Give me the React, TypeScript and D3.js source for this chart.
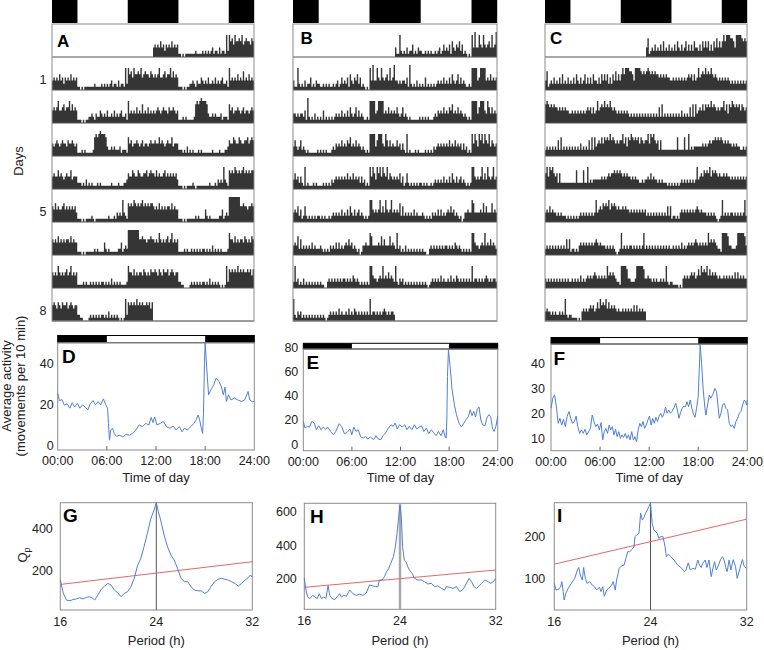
import React from "react";
import * as d3 from "d3";

const FONT = "'Liberation Sans', Arial, Helvetica, sans-serif";
const INK = "#222";
const BLUE = "#4f7fd6";
const RED = "#e06a6a";
const FRAME = "#8c8c8c";

// Actogram activity: one entry per day, four 6-h blocks (00-06, 06-12, 12-18, 18-24),
// each digit is the activity level (0-9) of a 20-min bin
const actogramA: string[][] = [
  ["343435342434353434", "110101111111211112", "121212312213122172", "756475565745655465"],
  ["454574456455746454", "111010112232132243", "232422324232342231", "734343534363435343"],
  ["434543454435445434", "111212111112676787", "776322323222312221", "645344543453443454"],
  ["454464543454463444", "222121312121112121", "111111211112111223", "544654465445564565"],
  ["546454456454545453", "111010111121011111", "111121112132327321", "656576565675656566"],
  ["545464545455464544", "111010111111212111", "142121111112241232", "888888885565545565"],
  ["545475454564574545", "111121211212121212", "212121312121211112", "755464545546545465"],
  ["565465465564565455", "221100001212121212", "212131212121010172", "656565756565565646"],
];

const actogramB: string[][] = [
  ["311721213122412132", "211212121121231242", "324153243524121010", "738337437434537348"],
  ["332323324182121312", "121412121212323242", "324253235242321121", "777734777734353434"],
  ["353235232121111112", "121212111232434353", "435463435343232121", "777735777437535343"],
  ["353424217121112121", "111212121323434343", "435343534342423121", "747537574754735434"],
  ["343524125212121212", "212121121232323242", "324253242342321212", "774343473537434734"],
  ["343625232323242322", "232121213232424232", "343534232120133433", "763333436353336343"],
  ["272312131212121212", "121100232323232323", "323232432321212121", "774332343734353432"],
  ["721323121212121212", "121210123232324232", "232423243232323232", "723323232343232332"],
];

const actogramC: string[][] = [
  ["361232423242523242", "324253242352424253", "324253535242536353", "575777665377776565"],
  ["676565655454545443", "343434343434545353", "474565756575454343", "434343232323232323"],
  ["232323232526232323", "232323242323252626", "345464656575654545", "574636576565646545"],
  ["574767545252222222", "222262222622723233", "333343434545565656", "545454434343322323"],
  ["343534332323222121", "212121232323232323", "734546565746565454", "454544343434343434"],
  ["232323232323232525", "122121343434343434", "543433323232321012", "723232332323232372"],
  ["323232323232323232", "232323242323434345", "434343437454543221", "777763322237777763"],
  ["343323232232327212", "211110103434345453", "464756574645454343", "343434343535343433"],
];

// lights-off phases (hours)
const darkPhases: [number, number][] = [[0, 6], [18, 24]];
const dayLabels = [1, 5, 8];

// Mean daily activity profiles [hour, movements per 10 min]
const profileD: [number, number][] = [
  [0, 25.7], [0.21, 22], [0.51, 22.6], [0.8, 19.9], [1.14, 20.5], [1.48, 18.4], [1.77, 21.1], [2.07, 19],
  [2.41, 20.8], [2.7, 18.4], [3.04, 20], [3.34, 19], [3.68, 17.6], [3.97, 20.5], [4.31, 22.1], [4.61, 20],
  [4.94, 21.6], [5.24, 20], [5.58, 22.9], [5.87, 20], [6.08, 18.4], [6.2, 11], [6.32, 2.8], [6.47, 7.8],
  [6.71, 8.6], [6.91, 6], [7.18, 4.7], [7.58, 5.2], [7.97, 4.4], [8.37, 5.7], [8.76, 5.2], [9.16, 6.3],
  [9.55, 7.8], [9.95, 10.2], [10.34, 9.4], [10.74, 11], [11.13, 10.2], [11.41, 13.9], [11.64, 11.4],
  [11.84, 14.1], [12.12, 10.2], [12.51, 11], [12.9, 11.9], [13.29, 9.4], [13.69, 8.6], [14.08, 9.7],
  [14.47, 7.8], [14.86, 9.4], [15.18, 6.9], [15.45, 8.6], [15.84, 7.8], [16.24, 9.4], [16.63, 11],
  [16.9, 12.7], [17.14, 15.1], [17.33, 12.7], [17.53, 8.6], [17.69, 6.1], [17.8, 15.9], [17.92, 40.3],
  [18.0, 50], [18.21, 37], [18.42, 24.9], [18.71, 27.3], [19.05, 29.8], [19.34, 33], [19.68, 31.4],
  [19.97, 28.9], [20.22, 24.9], [20.43, 28.6], [20.6, 21.6], [20.85, 24.9], [21.15, 22.4], [21.57, 23.3],
  [21.99, 22.4], [22.41, 21.6], [22.83, 22.4], [23.24, 26.5], [23.45, 22.4], [23.75, 21.6], [24, 21.6],
];

const profileE: [number, number][] = [
  [0, 18.7], [0.21, 13.2], [0.51, 14.6], [0.76, 14], [1.06, 18.7], [1.35, 17.3], [1.61, 11.8], [1.9, 15.1],
  [2.2, 11.8], [2.45, 14], [2.75, 12.4], [3.04, 13.7], [3.38, 10.4], [3.72, 7.7], [4.01, 10.4], [4.44, 16.8],
  [4.73, 14.6], [5.07, 8.5], [5.41, 9.6], [5.75, 12.4], [6.0, 7.7], [6.24, 14], [6.51, 10.4], [6.78, 11.8],
  [7.1, 5.8], [7.41, 4.9], [7.69, 6.3], [7.96, 4.1], [8.27, 5.8], [8.67, 3.6], [8.98, 6.9], [9.25, 4.1],
  [9.57, 3.6], [9.84, 6.9], [10.16, 9.1], [10.43, 12.4], [10.82, 15.9], [11.1, 14.6], [11.33, 17.3],
  [11.61, 12.4], [11.88, 15.9], [12.2, 14], [12.52, 15.9], [12.8, 11.8], [13.08, 14.6], [13.4, 11.8],
  [13.72, 15.9], [14.0, 12.4], [14.28, 14], [14.6, 15.1], [14.88, 10.4], [15.2, 13.2], [15.48, 8.5],
  [15.8, 11.8], [16.12, 9.1], [16.4, 6.9], [16.68, 10.4], [17.0, 6.9], [17.28, 11.8], [17.52, 5.8],
  [17.64, 4.9], [17.72, 20], [17.8, 55.8], [17.92, 77.7], [18.13, 64], [18.35, 46], [18.65, 32.4],
  [18.91, 24.2], [19.22, 17.3], [19.52, 14], [19.83, 17.3], [20.09, 20], [20.39, 22.8], [20.61, 28.3],
  [20.83, 23.4], [21.04, 26.9], [21.26, 22.3], [21.48, 28.8], [21.7, 30.5], [21.91, 20], [22.13, 15.9],
  [22.43, 15.1], [22.65, 21.4], [22.91, 24.2], [23.13, 22.8], [23.35, 13.2], [23.56, 10.4], [23.78, 14.6],
  [24, 22.8],
];

const profileF: [number, number][] = [
  [0, 22.1], [0.22, 26.1], [0.44, 27.4], [0.66, 22.7], [0.88, 16.1], [1.09, 18.1], [1.31, 15.4], [1.53, 17.7],
  [1.75, 14.8], [1.97, 18.8], [2.19, 20.8], [2.41, 18.1], [2.63, 16.1], [2.85, 16.8], [3.07, 19], [3.28, 14.8],
  [3.5, 12.1], [3.72, 13.5], [3.94, 12.1], [4.16, 13.7], [4.38, 11.5], [4.6, 12.8], [4.82, 14.1], [5.04, 19.4],
  [5.26, 16.8], [5.47, 14.8], [5.69, 15.8], [5.91, 13.5], [6.12, 16.4], [6.32, 9.5], [6.51, 12.8], [6.71, 14.1],
  [6.91, 12.1], [7.11, 15.4], [7.3, 13.5], [7.5, 14.8], [7.7, 11.5], [7.89, 13.7], [8.09, 10.8], [8.29, 12.8],
  [8.49, 10.1], [8.68, 11.5], [8.88, 10.5], [9.08, 12.1], [9.28, 10.1], [9.47, 11.5], [9.67, 9.5], [9.87, 12.8],
  [10.07, 9.5], [10.26, 10.8], [10.46, 8.8], [10.66, 13.5], [10.86, 16.1], [11.05, 14.8], [11.25, 16.8],
  [11.45, 14.1], [11.64, 15.4], [11.84, 17.4], [12.04, 19], [12.24, 15.4], [12.43, 18.1], [12.63, 16.1],
  [12.82, 18.5], [13.02, 16.8], [13.22, 19], [13.41, 20.1], [13.61, 18.5], [13.8, 19.8], [14.0, 22.5],
  [14.2, 20.1], [14.39, 21.4], [14.59, 20.1], [14.78, 20.8], [15.06, 22.5], [15.25, 24.1], [15.45, 21.4],
  [15.65, 18.1], [15.84, 20.4], [16.04, 22.1], [16.24, 23], [16.43, 22.7], [16.63, 24.7], [16.82, 22.7],
  [17.02, 25.4], [17.22, 22.1], [17.41, 19.8], [17.61, 18.5], [17.8, 22.1], [18.0, 26.7], [18.12, 37.3],
  [18.24, 47.3], [18.41, 40], [18.61, 29.4], [18.82, 22.1], [18.94, 19.4], [19.14, 23.4], [19.35, 27.4],
  [19.55, 26.1], [19.84, 28.1], [20.04, 30], [20.24, 28.7], [20.45, 22.1], [20.57, 18.1], [20.78, 20.1],
  [20.98, 23.4], [21.18, 24.1], [21.39, 22.1], [21.59, 21.4], [21.8, 16.1], [22.0, 14.8], [22.2, 15.4],
  [22.41, 14.1], [22.61, 16.8], [22.82, 18.1], [23.02, 20.1], [23.22, 20.8], [23.43, 23.4], [23.63, 25.4],
  [23.8, 24.7], [23.92, 23.4], [24, 25.4],
];

// Chi-square periodograms [period h, Qp] and significance line end points
const periodogramG: [number, number][] = [
  [16, 156], [16.25, 93], [16.52, 61], [16.8, 58], [17.07, 64], [17.35, 67], [17.62, 72], [17.9, 67],
  [18.17, 74], [18.45, 77], [18.72, 69], [18.86, 61], [19.13, 85], [19.41, 112], [19.68, 127], [19.96, 140],
  [20.23, 132], [20.51, 108], [20.78, 96], [21.06, 77], [21.33, 93], [21.61, 101], [21.88, 124], [22.16, 164],
  [22.43, 222], [22.71, 258], [22.98, 313], [23.26, 376], [23.53, 442], [23.81, 486], [24, 520], [24.17, 478],
  [24.36, 439], [24.65, 368], [24.93, 313], [25.21, 274], [25.49, 250], [25.77, 211], [26.06, 164],
  [26.34, 148], [26.62, 148], [26.9, 124], [27.18, 108], [27.46, 105], [27.74, 105], [28.02, 93], [28.3, 101],
  [28.58, 127], [28.86, 148], [29.14, 159], [29.42, 164], [29.7, 160], [29.98, 156], [30.27, 148],
  [30.55, 140], [30.83, 127], [31.11, 140], [31.4, 156], [31.68, 168], [31.82, 179], [32, 171],
];

const periodogramH: [number, number][] = [
  [16, 200], [16.14, 130], [16.28, 88], [16.47, 78], [16.69, 98], [16.89, 88], [17.08, 78], [17.25, 108],
  [17.44, 78], [17.63, 88], [17.8, 78], [17.99, 155], [18.13, 98], [18.33, 78], [18.55, 72], [18.77, 92],
  [18.96, 108], [19.1, 88], [19.29, 98], [19.52, 92], [19.79, 130], [20.07, 108], [20.35, 98], [20.62, 104],
  [20.9, 98], [21.18, 112], [21.45, 160], [21.73, 155], [21.95, 150], [22.15, 150], [22.28, 190], [22.51, 190],
  [22.7, 210], [22.84, 234], [23.06, 260], [23.25, 294], [23.45, 330], [23.61, 390], [23.75, 470],
  [23.89, 570], [24, 640], [24.11, 570], [24.22, 390], [24.36, 310], [24.51, 300], [24.65, 270], [24.79, 250],
  [25.01, 230], [25.21, 200], [25.49, 190], [25.77, 190], [26.05, 180], [26.33, 166], [26.61, 170],
  [26.89, 150], [27.17, 155], [27.45, 140], [27.73, 130], [27.87, 150], [28.15, 146], [28.44, 140],
  [28.72, 150], [29, 120], [29.28, 134], [29.56, 170], [29.78, 200], [29.98, 180], [30.18, 150], [30.4, 140],
  [30.62, 155], [30.82, 170], [31.1, 190], [31.38, 180], [31.58, 170], [31.8, 180], [32, 200],
];

const periodogramI: [number, number][] = [
  [16, 88], [16.14, 72], [16.33, 74], [16.52, 79], [16.63, 92], [16.74, 68], [16.82, 48], [16.96, 64],
  [17.15, 76], [17.42, 88], [17.7, 100], [17.92, 120], [18.03, 126], [18.16, 108], [18.33, 96], [18.44, 126],
  [18.55, 104], [18.71, 88], [18.93, 92], [19.15, 84], [19.34, 80], [19.53, 72], [19.75, 79], [19.89, 68],
  [20.03, 80], [20.16, 57], [20.36, 72], [20.52, 76], [20.71, 81], [20.9, 92], [21.07, 72], [21.18, 96],
  [21.4, 124], [21.59, 130], [21.81, 132], [21.95, 148], [22.11, 164], [22.27, 164], [22.49, 170],
  [22.63, 176], [22.71, 200], [22.85, 204], [23.04, 208], [23.18, 256], [23.32, 240], [23.45, 246],
  [23.59, 256], [23.73, 264], [23.86, 272], [24, 281], [24.14, 232], [24.28, 216], [24.56, 208], [24.7, 196],
  [24.87, 200], [25.04, 200], [25.21, 176], [25.32, 152], [25.49, 158], [25.68, 152], [25.96, 144],
  [26.25, 132], [26.53, 126], [26.81, 116], [26.95, 120], [27.14, 137], [27.31, 120], [27.51, 124],
  [27.73, 122], [27.93, 144], [28.07, 132], [28.21, 126], [28.35, 136], [28.55, 144], [28.69, 126],
  [28.86, 144], [29.05, 104], [29.19, 124], [29.33, 140], [29.47, 120], [29.67, 132], [29.81, 144],
  [29.98, 152], [30.12, 144], [30.26, 126], [30.37, 116], [30.54, 144], [30.68, 120], [30.88, 145],
  [31.07, 128], [31.21, 100], [31.44, 124], [31.64, 145], [31.8, 128], [32, 124],
];

const thresholdG: [number, number][] = [[16, 135], [32, 242]];
const thresholdH: [number, number][] = [[16, 146], [32, 250]];
const thresholdI: [number, number][] = [[16, 134], [32, 242]];

const timeTicks = [0, 6, 12, 18, 24];
const timeTickLabels = ["00:00", "06:00", "12:00", "18:00", "24:00"];
const activityTicksD = [0, 20, 40];
const activityTicksE = [0, 20, 40, 60, 80];
const activityTicksF = [10, 20, 30, 40];
const periodTicks = [16, 24, 32];
const qpTicksG = [200, 400];
const qpTicksH = [200, 400, 600];
const qpTicksI = [100, 200];

function dayBins(day: string[]): [number, number][] {
  const bins: [number, number][] = [];
  day.forEach((seg, s) => {
    const n = seg.length;
    for (let i = 0; i < n; i++) bins.push([6 * s + (6 * i) / n, +seg[i]]);
  });
  bins.push([24, bins[bins.length - 1][1]]);
  return bins;
}

function Actogram({ days, x0, x1, label, lx, ly }: any) {
  const top = 24;
  const rowH = 33;
  const nRows = days.length + 1;
  const bottom = top + nRows * rowH;
  const x = d3.scaleLinear().domain([0, 48]).range([x0, x1]);
  const h = d3.scaleLinear().domain([0, 10]).range([0, rowH * 0.95]);

  const marks: any[] = [];
  days.forEach((day: string[], d: number) => {
    const pts = dayBins(day);
    // double plot: day d on the right of row d and on the left of row d+1
    [[d, 24], [d + 1, 0]].forEach(([row, off]) => {
      const base = top + (row + 1) * rowH;
      const area = d3
        .area<[number, number]>()
        .x((p) => x(p[0] + off))
        .y0(base)
        .y1((p) => base - h(p[1]))
        .curve(d3.curveStepAfter);
      marks.push(<path key={`${d}-${off}`} d={area(pts) || ""} fill="#353535" />);
    });
  });

  return (
    <g>
      {[0, 24].map((off) =>
        darkPhases.map(([a, b]) => (
          <rect key={`${off}-${a}`} x={x(a + off)} y={0} width={x(b) - x(a) + 0.2} height={23} fill="#000" />
        ))
      )}
      {marks}
      {d3.range(nRows).map((r) => (
        <line key={r} x1={x0} x2={x1} y1={top + (r + 1) * rowH} y2={top + (r + 1) * rowH} stroke="#555" strokeWidth={1} />
      ))}
      <rect x={x0} y={top} width={x1 - x0} height={bottom - top} fill="none" stroke={FRAME} strokeWidth={1} />
      <text x={lx} y={ly} fontSize={17} fontWeight="bold" fill="#000">{label}</text>
    </g>
  );
}

function Profile({ data, frame, yDomain, yTicks, gap, label, lx, ly }: any) {
  const { left, right, barTop, top, bottom } = frame;
  const x = d3.scaleLinear().domain([0, 24]).range([left, right]);
  const y = d3.scaleLinear().domain(yDomain).range([bottom, top]);
  const line = d3.line<[number, number]>().x((d) => x(d[0])).y((d) => y(d[1]));
  const cx = (left + right) / 2;
  return (
    <g>
      <rect x={left} y={barTop} width={right - left} height={top - barTop} fill="#fff" stroke="#000" strokeWidth={1} />
      {darkPhases.map(([a, b]) => (
        <rect key={a} x={x(a)} y={barTop} width={x(b) - x(a)} height={top - barTop} fill="#000" />
      ))}
      <rect x={left} y={top} width={right - left} height={bottom - top} fill="none" stroke={FRAME} />
      {timeTicks.slice(1, -1).map((t) => (
        <line key={t} x1={x(t)} x2={x(t)} y1={bottom} y2={bottom - 4} stroke="#666" />
      ))}
      <path d={line(data) || ""} fill="none" stroke={BLUE} strokeWidth={1} strokeLinejoin="round" />
      {yTicks.map((v: number) => (
        <text key={v} x={left - gap} y={y(v)} dy="0.36em" textAnchor="end" fontSize={12.5} fill={INK}>{v}</text>
      ))}
      {timeTicks.map((t, i) => (
        <text key={t} x={x(t)} y={bottom + 15} textAnchor="middle" fontSize={12.5} fill={INK}>{timeTickLabels[i]}</text>
      ))}
      <text x={cx} y={482} textAnchor="middle" fontSize={13} fill={INK}>Time of day</text>
      <text x={lx} y={ly} fontSize={19} fontWeight="bold" fill="#000">{label}</text>
    </g>
  );
}

function Periodogram({ data, threshold, frame, yDomain, yTicks, gap, label, lx, ly, peakLine }: any) {
  const { left, right, top, bottom } = frame;
  const x = d3.scaleLinear().domain([16, 32]).range([left, right]);
  const y = d3.scaleLinear().domain(yDomain).range([bottom, top]);
  const line = d3.line<[number, number]>().x((d) => x(d[0])).y((d) => y(d[1]));
  return (
    <g>
      <rect x={left} y={top} width={right - left} height={bottom - top} fill="#fff" stroke={FRAME} />
      <line x1={x(24)} x2={x(24)} y1={top} y2={bottom} stroke={peakLine.color} strokeWidth={peakLine.width} />
      <path d={line(threshold) || ""} fill="none" stroke={RED} strokeWidth={1} />
      <path d={line(data) || ""} fill="none" stroke={BLUE} strokeWidth={1} strokeLinejoin="round" />
      {yTicks.map((v: number) => (
        <text key={v} x={left - gap} y={y(v)} dy="0.36em" textAnchor="end" fontSize={12.5} fill={INK}>{v}</text>
      ))}
      {periodTicks.map((p) => (
        <text key={p} x={x(p)} y={bottom + 16} textAnchor="middle" fontSize={12.5} fill={INK}>{p}</text>
      ))}
      <text x={(left + right) / 2} y={645} textAnchor="middle" fontSize={13} fill={INK}>Period (h)</text>
      <text x={lx} y={ly} fontSize={19} fontWeight="bold" fill="#000">{label}</text>
    </g>
  );
}

export default function App() {
  return (
    <svg
      width={764}
      height={650}
      style={{ position: "absolute", left: 0, top: 0, display: "block", background: "#fff" }}
      fontFamily={FONT}
    >
      <rect width={764} height={650} fill="#fff" />

      <Actogram days={actogramA} x0={52} x1={254} label="A" lx={57} ly={47} />
      <Actogram days={actogramB} x0={293} x1={497} label="B" lx={300.5} ly={44} />
      <Actogram days={actogramC} x0={545} x1={747} label="C" lx={550} ly={43.5} />

      {dayLabels.map((d) => (
        <text key={d} x={46.5} y={24 + (d + 1) * 33 - 6.5} textAnchor="end" fontSize={12.5} fill={INK}>{d}</text>
      ))}
      <text transform="translate(22.5,161) rotate(-90)" textAnchor="middle" fontSize={13} fill={INK}>Days</text>

      <Profile
        data={profileD}
        frame={{ left: 57.7, right: 254.3, barTop: 335.5, top: 342.7, bottom: 450 }}
        yDomain={[-1.95, 50.24]}
        yTicks={activityTicksD}
        gap={4}
        label="D" lx={62} ly={363}
      />
      <Profile
        data={profileE}
        frame={{ left: 303.3, right: 497.7, barTop: 343.3, top: 349, bottom: 450.7 }}
        yDomain={[-5.5, 78.4]}
        yTicks={activityTicksE}
        gap={5}
        label="E" lx={306.5} ly={369}
      />
      <Profile
        data={profileF}
        frame={{ left: 551, right: 747.3, barTop: 337.5, top: 344, bottom: 450.7 }}
        yDomain={[5.2, 47.7]}
        yTicks={activityTicksF}
        gap={6}
        label="F" lx={553.5} ly={365}
      />
      <text transform="translate(11,386) rotate(-90)" textAnchor="middle" fontSize={13} fill={INK}>Average activity</text>
      <text transform="translate(25,386) rotate(-90)" textAnchor="middle" fontSize={13} fill={INK}>(movements per 10 min)</text>

      <Periodogram
        data={periodogramG}
        threshold={thresholdG}
        frame={{ left: 60.3, right: 252.3, top: 502.7, bottom: 610 }}
        yDomain={[14.6, 520]}
        yTicks={qpTicksG}
        gap={7.5}
        label="G" lx={63} ly={521.5}
        peakLine={{ color: "#555", width: 1 }}
      />
      <Periodogram
        data={periodogramH}
        threshold={thresholdH}
        frame={{ left: 304.3, right: 495.7, top: 503.3, bottom: 609.3 }}
        yDomain={[14, 651]}
        yTicks={qpTicksH}
        gap={7.5}
        label="H" lx={310} ly={523}
        peakLine={{ color: "#a8a8a8", width: 2.5 }}
      />
      <Periodogram
        data={periodogramI}
        threshold={thresholdI}
        frame={{ left: 554.3, right: 746.7, top: 502.7, bottom: 610 }}
        yDomain={[24, 281.5]}
        yTicks={qpTicksI}
        gap={9}
        label="I" lx={557} ly={521.5}
        peakLine={{ color: "#555", width: 1 }}
      />
      <text transform="translate(27,555) rotate(-90)" textAnchor="middle" fontSize={13} fill={INK}>
        Q<tspan fontSize={9} dy={3}>p</tspan>
      </text>
    </svg>
  );
}
